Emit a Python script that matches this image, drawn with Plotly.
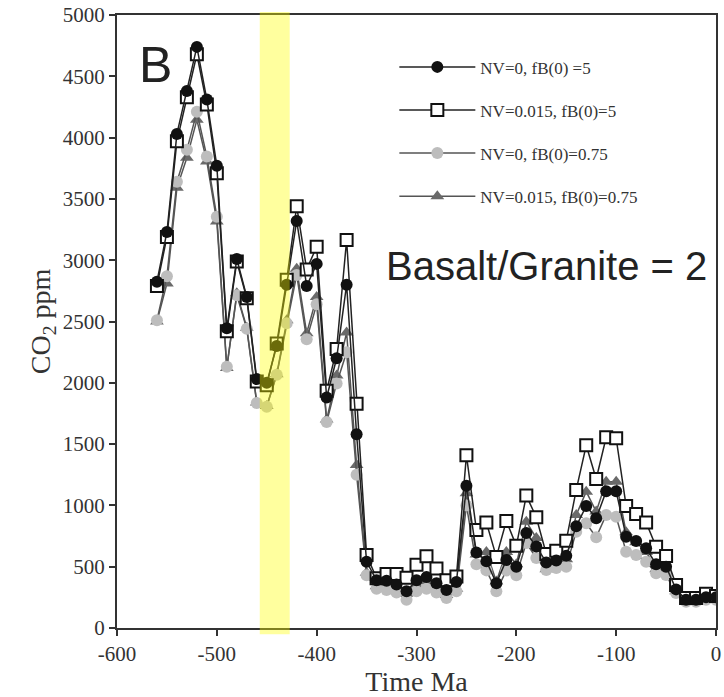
import plotly.graph_objects as go

# time axis, Ma (step 10)
time_ma = list(range(-560, 1, 10))

# NV=0, fB(0)=5  (black circles)
co2_nv0_fb5 = [2825, 3230, 4030, 4380, 4740, 4310, 3770, 2445, 3010, 2700,
               2030, 2000, 2300, 2800, 3320, 2790, 2970, 1880, 2200, 2800,
               1580, 540, 390, 386, 355, 300, 390, 415, 365, 310,
               375, 1160, 615, 545, 365, 555, 500, 775, 665, 535,
               550, 590, 830, 995, 895, 1115, 1115, 745, 710, 650,
               520, 500, 315, 230, 230, 250, 250]

# NV=0.015, fB(0)=5  (open squares)
co2_nv015_fb5 = [2790, 3190, 3970, 4330, 4680, 4270, 3710, 2420, 2990, 2690,
                 2010, 1980, 2320, 2840, 3440, 2925, 3110, 1935, 2275, 3165,
                 1830, 595, 405, 440, 440, 410, 515, 585, 485, 390,
                 420, 1410, 800, 860, 580, 873, 670, 1080, 903, 604,
                 631, 712, 1126, 1490, 1215, 1556, 1547, 995, 930, 860,
                 663, 587, 350, 245, 245, 280, 260]

# NV=0, fB(0)=0.75  (grey circles)
co2_nv0_fb075 = [2510, 2870, 3640, 3900, 4210, 3845, 3355, 2130, 2715, 2440,
                 1835, 1805, 2065, 2485, 2880, 2355, 2640, 1680, 1995, 2250,
                 1250, 430, 320, 310, 290, 230, 300, 320, 290, 245,
                 300, 1000, 520, 470, 300, 470, 430, 693, 571, 473,
                 489, 500, 786, 854, 740, 922, 908, 622, 595, 541,
                 446, 432, 285, 215, 215, 230, 230]

# NV=0.015, fB(0)=0.75  (dark grey triangles)
co2_nv015_fb075 = [2500, 2810, 3590, 3835, 4145, 3805, 3315, 2120, 2730, 2450,
                   1840, 1810, 2070, 2510, 2930, 2405, 2700, 1700, 2060, 2410,
                   1330, 450, 340, 340, 330, 280, 350, 380, 330, 270,
                   320, 1100, 600, 620, 380, 620, 520, 867, 734, 480,
                   530, 560, 922, 1112, 950, 1193, 1193, 780, 700, 620,
                   480, 460, 300, 225, 225, 250, 245]

x_ticks = list(range(-600, 1, 100))
y_ticks = list(range(0, 5001, 500))

serif = 'Liberation Serif, Times New Roman, serif'
sans = 'Liberation Sans, Arial, sans-serif'

fig = go.Figure()

# drawn bottom to top; legendrank keeps the legend order
fig.add_trace(go.Scatter(x=time_ma, y=co2_nv015_fb075, mode='lines+markers',
                         name='NV=0.015, fB(0)=0.75', legendrank=4, legendgroup='d',
                         line=dict(color='#555555', width=1.5),
                         marker=dict(symbol='triangle-up', size=12, color='#6a6a6a')))
fig.add_trace(go.Scatter(x=time_ma, y=co2_nv0_fb075, mode='lines+markers',
                         name='NV=0, fB(0)=0.75', legendrank=3, legendgroup='c',
                         line=dict(color='#555555', width=1.5),
                         marker=dict(symbol='circle', size=12, color='#bdbdbd')))
fig.add_trace(go.Scatter(x=time_ma, y=co2_nv015_fb5, mode='lines+markers',
                         name='NV=0.015, fB(0)=5', legendrank=2, legendgroup='b',
                         line=dict(color='#222222', width=1.5),
                         marker=dict(symbol='square', size=12, color='white',
                                     line=dict(color='#111111', width=2))))
fig.add_trace(go.Scatter(x=time_ma, y=co2_nv0_fb5, mode='lines+markers',
                         name='NV=0, fB(0) =5', legendrank=1, legendgroup='a',
                         line=dict(color='#222222', width=1.5),
                         marker=dict(symbol='circle', size=12, color='#111111')))

# yellow highlight band, sits over the lines
fig.add_shape(type='rect', xref='x', yref='paper', x0=-457, x1=-427, y0=-0.01, y1=1.005,
              fillcolor='rgb(255,255,0)', opacity=0.38, line_width=0, layer='above')

fig.add_annotation(x=0.033, y=0.918, xref='paper', yref='paper', text='B', showarrow=False,
                   xanchor='left', yanchor='middle',
                   font=dict(family=sans, size=50, color='#222222'))
fig.add_annotation(x=0.445, y=0.59, xref='paper', yref='paper', text='Basalt/Granite = 2',
                   showarrow=False, xanchor='left', yanchor='middle',
                   font=dict(family=sans, size=40, color='#222222'))

axis_style = dict(showgrid=False, zeroline=False, showline=True, linecolor='#333333',
                  linewidth=2, mirror=True, ticks='outside', ticklen=6, tickwidth=1.5,
                  tickcolor='#333333', automargin=False,
                  tickfont=dict(family=serif, size=21, color='#333333'))

fig.update_xaxes(range=[-600, 0], tickvals=x_ticks, ticktext=[str(v) for v in x_ticks],
                 title=dict(text='Time Ma', standoff=4,
                            font=dict(family=serif, size=28, color='#333333')),
                 **axis_style)
fig.update_yaxes(range=[0, 5000], tickvals=y_ticks, ticktext=[str(v) for v in y_ticks],
                 title=dict(text='CO<sub>2</sub> ppm', standoff=4,
                            font=dict(family=serif, size=28, color='#333333')),
                 **axis_style)

fig.update_layout(
    width=724, height=697,
    margin=dict(l=117, r=8, t=15, b=69),
    plot_bgcolor='white', paper_bgcolor='white',
    showlegend=True,
    legend=dict(x=0.463, y=0.944, xanchor='left', yanchor='top', bgcolor='rgba(0,0,0,0)',
                itemwidth=76, tracegroupgap=18, traceorder='grouped',
                font=dict(family=serif, size=17, color='#333333')),
)

# page has a default 8px body margin; drop it so the figure sits at the corner
fig.write_html("out.html", config={'displayModeBar': False},
               post_script="document.body.style.margin='0';")
